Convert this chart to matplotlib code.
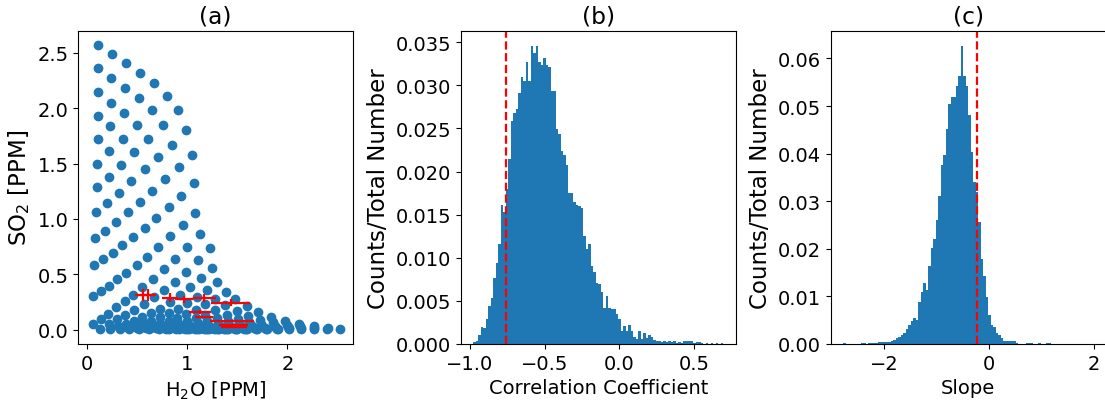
import numpy as np
import matplotlib
matplotlib.use("Agg")
import matplotlib.pyplot as plt

# (a) model grid, one list per mixing line (H2O, SO2 in ppm)
h2o_lines = [
    [0.11],
    [0.107, 0.247],
    [0.107, 0.243, 0.39],
    [0.107, 0.237, 0.38, 0.53],
    [0.107, 0.233, 0.37, 0.517, 0.67],
    [0.103, 0.223, 0.357, 0.503, 0.647, 0.797],
    [0.10, 0.217, 0.34, 0.473, 0.613, 0.763, 0.907],
    [0.087, 0.203, 0.317, 0.443, 0.58, 0.71, 0.85, 0.993],
    [0.08, 0.18, 0.287, 0.407, 0.527, 0.65, 0.783, 0.917, 1.053],
    [0.073, 0.16, 0.257, 0.353, 0.463, 0.577, 0.693, 0.817, 0.937, 1.07],
    [0.06, 0.137, 0.22, 0.30, 0.393, 0.497, 0.603, 0.71, 0.827, 0.957, 1.08],
    [0.06, 0.137, 0.213, 0.293, 0.38, 0.463, 0.55, 0.657, 0.767, 0.877, 1.0, 1.133],
    [0.133, 0.217, 0.30, 0.383, 0.473, 0.567, 0.667, 0.773, 0.877, 0.99, 1.11, 1.227],
    [0.233, 0.31, 0.387, 0.467, 0.55, 0.64, 0.733, 0.833, 0.933, 1.033, 1.14, 1.247],
    [0.327, 0.40, 0.477, 0.557, 0.64, 0.727, 0.817, 0.907, 1.0, 1.10, 1.20, 1.30],
    [0.423, 0.497, 0.573, 0.653, 0.733, 0.817, 0.903, 0.993, 1.087, 1.183, 1.283, 1.383],
    [0.52, 0.593, 0.67, 0.75, 0.83, 0.913, 1.0, 1.09, 1.183, 1.28, 1.38, 1.48],
    [0.617, 0.693, 0.77, 0.85, 0.933, 1.02, 1.107, 1.20, 1.297, 1.393, 1.497, 1.60],
    [0.717, 0.793, 0.873, 0.957, 1.04, 1.127, 1.213, 1.307, 1.403, 1.503, 1.607, 1.71],
    [0.817, 0.893, 0.977, 1.06, 1.147, 1.233, 1.323, 1.417, 1.513, 1.617, 1.727, 1.84],
    [0.917, 0.997, 1.08, 1.167, 1.253, 1.343, 1.437, 1.533, 1.633, 1.74, 1.853, 1.973],
    [1.017, 1.10, 1.187, 1.273, 1.363, 1.457, 1.553, 1.653, 1.76, 1.873, 1.993, 2.12],
    [1.117, 1.203, 1.29, 1.38, 1.473, 1.57, 1.67, 1.777, 1.887, 2.003, 2.13, 2.267],
    [1.217, 1.303, 1.393, 1.487, 1.583, 1.683, 1.787, 1.897, 2.013, 2.137, 2.27, 2.41],
    [1.317, 1.407, 1.50, 1.597, 1.697, 1.80, 1.907, 2.02, 2.14, 2.263, 2.393, 2.527],
]
so2_lines = [
    [2.57],
    [2.36, 2.49],
    [2.15, 2.27, 2.41],
    [1.93, 2.05, 2.18, 2.32],
    [1.72, 1.84, 1.96, 2.09, 2.23],
    [1.50, 1.61, 1.72, 1.85, 1.98, 2.11],
    [1.29, 1.38, 1.49, 1.60, 1.72, 1.85, 1.98],
    [1.06, 1.14, 1.23, 1.34, 1.45, 1.56, 1.67, 1.80],
    [0.825, 0.895, 0.973, 1.06, 1.15, 1.25, 1.36, 1.47, 1.58],
    [0.584, 0.636, 0.696, 0.762, 0.837, 0.922, 1.01, 1.11, 1.21, 1.32],
    [0.307, 0.352, 0.395, 0.455, 0.509, 0.584, 0.66, 0.747, 0.843, 0.943, 1.057],
    [0.054, 0.099, 0.145, 0.205, 0.256, 0.316, 0.383, 0.455, 0.545, 0.642, 0.747, 0.861],
    [0.009, 0.054, 0.093, 0.136, 0.181, 0.235, 0.295, 0.355, 0.431, 0.521, 0.627, 0.738],
    [0.009, 0.03, 0.054, 0.081, 0.111, 0.148, 0.19, 0.25, 0.316, 0.386, 0.467, 0.557],
    [0.009, 0.021, 0.039, 0.057, 0.081, 0.111, 0.148, 0.19, 0.241, 0.295, 0.355, 0.431],
    [0.009, 0.018, 0.027, 0.042, 0.06, 0.081, 0.108, 0.142, 0.181, 0.229, 0.28, 0.34],
    [0.009, 0.015, 0.024, 0.033, 0.045, 0.06, 0.081, 0.105, 0.136, 0.175, 0.22, 0.274],
    [0.009, 0.012, 0.018, 0.024, 0.033, 0.045, 0.06, 0.081, 0.105, 0.136, 0.169, 0.211],
    [0.009, 0.009, 0.012, 0.018, 0.024, 0.033, 0.045, 0.06, 0.078, 0.099, 0.127, 0.157],
    [0.006, 0.009, 0.009, 0.012, 0.018, 0.024, 0.033, 0.045, 0.057, 0.072, 0.09, 0.111],
    [0.006, 0.006, 0.009, 0.009, 0.012, 0.018, 0.024, 0.033, 0.042, 0.051, 0.066, 0.081],
    [0.006, 0.006, 0.006, 0.009, 0.009, 0.012, 0.015, 0.021, 0.027, 0.033, 0.042, 0.051],
    [0.006, 0.006, 0.006, 0.006, 0.009, 0.009, 0.012, 0.015, 0.018, 0.024, 0.03, 0.036],
    [0.003, 0.003, 0.003, 0.006, 0.006, 0.006, 0.009, 0.009, 0.012, 0.012, 0.015, 0.018],
    [0.003, 0.003, 0.003, 0.003, 0.003, 0.003, 0.003, 0.003, 0.003, 0.003, 0.003, 0.003],
]

# (a) measured points with uncertainties
obs_h2o = [0.56, 0.607, 0.833, 0.973, 1.173, 1.433, 1.133, 1.167, 1.45, 1.467, 1.47]
obs_so2 = [0.31, 0.31, 0.289, 0.274, 0.286, 0.244, 0.16, 0.114, 0.078, 0.039, 0.024]
obs_h2o_err = [0.08, 0.08, 0.08, 0.09, 0.117, 0.19, 0.11, 0.093, 0.22, 0.145, 0.13]
obs_so2_err = [0.054, 0.054, 0.038, 0.032, 0.033, 0.03, 0.015, 0.01, 0.01, 0.004, 0.004]

# (b) correlation coefficient histogram, fraction per bin
corr_range = (-0.976, 0.697)
corr_frac = [
    0.0002, 0.0003, 0.0010, 0.0020, 0.0018, 0.0029, 0.0044, 0.0053, 0.0077, 0.0094,
    0.0116, 0.0161, 0.0153, 0.0180, 0.0214, 0.0258, 0.0268, 0.0272, 0.0291, 0.0310,
    0.0305, 0.0327, 0.0305, 0.0346, 0.0337, 0.0345, 0.0327, 0.0324, 0.0332, 0.0324,
    0.0321, 0.0293, 0.0293, 0.0249, 0.0243, 0.0224, 0.0219, 0.0207, 0.0175, 0.0175,
    0.0165, 0.0161, 0.0160, 0.0158, 0.0125, 0.0110, 0.0116, 0.0091, 0.0083, 0.0071,
    0.0069, 0.0060, 0.0042, 0.0056, 0.0042, 0.0041, 0.0041, 0.0035, 0.0029, 0.0015,
    0.0021, 0.0015, 0.0022, 0.0015, 0.0008, 0.0006, 0.0015, 0.0006, 0.0013, 0.0007,
    0.0010, 0.0008, 0.0005, 0.0004, 0.0004, 0.0002, 0.0003, 0.0002, 0.0004, 0.0002,
    0.0003, 0.0001, 0.0002, 0.0001, 0.0003, 0.0003, 0.0003, 0.0003, 0.0001, 0.0002,
    0.0002, 0.0001, 0.0000, 0.0001, 0.0000, 0.0001, 0.0000, 0.0001, 0.0000, 0.0001,
]
corr_obs = -0.761

# (c) slope histogram, fraction per bin
slope_range = (-2.777, 1.98)
slope_frac = [
    0.0002, 0.0, 0.0, 0.0, 0.0, 0.0001, 0.0, 0.0002, 0.0002, 0.0,
    0.0002, 0.0002, 0.0003, 0.0002, 0.0004, 0.0004, 0.0004, 0.0005, 0.0005, 0.0007,
    0.0009, 0.0013, 0.0014, 0.0018, 0.0023, 0.0032, 0.0040, 0.0048, 0.0055, 0.0050,
    0.0089, 0.0110, 0.0128, 0.0114, 0.0163, 0.0201, 0.0220, 0.0261, 0.0312, 0.0376,
    0.0397, 0.0452, 0.0504, 0.0520, 0.0518, 0.0543, 0.0564, 0.0627, 0.0564, 0.0543,
    0.0481, 0.0404, 0.0341, 0.0319, 0.0256, 0.0179, 0.0142, 0.0098, 0.0060, 0.0039,
    0.0035, 0.0023, 0.0019, 0.0012, 0.0007, 0.0006, 0.0007, 0.0007, 0.0006, 0.0002,
    0.0001, 0.0, 0.0, 0.0002, 0.0002, 0.0002, 0.0, 0.0001, 0.0002, 0.0,
    0.0, 0.0002, 0.0002, 0.0, 0.0, 0.0, 0.0, 0.0, 0.0, 0.0,
    0.0, 0.0, 0.0, 0.0, 0.0, 0.0, 0.0, 0.0, 0.0, 0.0001,
]
slope_obs = -0.23

plt.rcParams["font.size"] = 14
plt.rcParams["axes.labelsize"] = 14
ylab_size = 16.5

fig = plt.figure(figsize=(11.05, 4.02), dpi=100)
ax_a = fig.add_axes([0.0709, 0.1418, 0.2486, 0.7794])
ax_b = fig.add_axes([0.4172, 0.1418, 0.2486, 0.7794])
ax_c = fig.add_axes([0.7520, 0.1418, 0.2486, 0.7794])

# (a)
ax_a.scatter(np.concatenate(h2o_lines), np.concatenate(so2_lines))
ax_a.errorbar(obs_h2o, obs_so2, xerr=obs_h2o_err, yerr=obs_so2_err,
              fmt="none", ecolor="red", elinewidth=1.6)
ax_a.set_xlim(-0.085, 2.655)
ax_a.set_ylim(-0.13, 2.70)
ax_a.set_xlabel("H$_2$O [PPM]")
ax_a.set_ylabel("SO$_2$ [PPM]", fontsize=ylab_size)
ax_a.set_title("(a)")

# (b)
edges = np.linspace(corr_range[0], corr_range[1], len(corr_frac) + 1)
centers = 0.5 * (edges[:-1] + edges[1:])
ax_b.hist(centers, bins=edges, weights=corr_frac)
ax_b.axvline(corr_obs, color="red", linestyle="--", linewidth=1.6)
ax_b.set_xlabel("Correlation Coefficient")
ax_b.set_ylabel("Counts/Total Number", fontsize=ylab_size)
ax_b.set_title("(b)")

# (c)
edges = np.linspace(slope_range[0], slope_range[1], len(slope_frac) + 1)
centers = 0.5 * (edges[:-1] + edges[1:])
ax_c.hist(centers, bins=edges, weights=slope_frac)
ax_c.axvline(slope_obs, color="red", linestyle="--", linewidth=1.6)
ax_c.set_xlabel("Slope")
ax_c.set_ylabel("Counts/Total Number", fontsize=ylab_size)
ax_c.set_title("(c)")

fig.savefig("out.png", dpi=100)
